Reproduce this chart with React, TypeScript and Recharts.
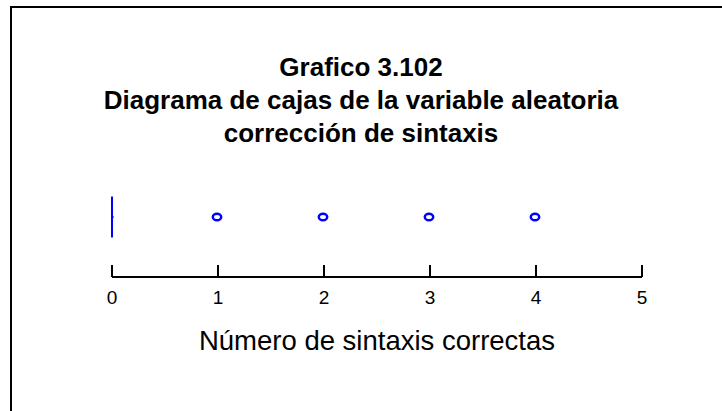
import React from "react";
import { ScatterChart, Scatter, XAxis, YAxis } from "recharts";

// box summary for "corrección de sintaxis" (everything collapses at 0)
const boxStats = [{ min: 0, q1: 0, median: 0, q3: 0, max: 0, row: 0.5 }];
// outliers
const outlierValues = [1, 2, 3, 4];
const xTicks = [0, 1, 2, 3, 4, 5];

const titleLines = ["Grafico 3.102", "Diagrama de cajas de la variable aleatoria", "corrección de sintaxis"];
const xLabel = "Número de sintaxis correctas";

const outliers = outlierValues.map((v) => ({ x: v, row: 0.5 }));
const boxPoints = boxStats.map((b) => ({ x: b.median, row: b.row }));

const FONT = "Arial, 'Liberation Sans', Helvetica, sans-serif";
const BLUE = "#0000ff";

const AxisTick = (props: any) => {
  const { x, y, payload } = props;
  return (
    <g>
      <line x1={x} y1={y} x2={x} y2={y - 12} stroke="#000" strokeWidth={2} />
      <text x={x} y={y + 27} textAnchor="middle" fontSize={19} fontFamily={FONT} fill="#000">
        {payload.value}
      </text>
    </g>
  );
};

const OutlierShape = (props: any) => {
  const { cx, cy } = props;
  return <ellipse cx={cx - 1} cy={cy} rx={4.2} ry={3.3} fill="none" stroke={BLUE} strokeWidth={2.5} />;
};

// collapsed box: q1 == q3, so only the vertical edge plus the median nub remain
const BoxShape = (props: any) => {
  const { cx, cy } = props;
  return (
    <g>
      <line x1={cx} y1={cy - 20.5} x2={cx} y2={cy + 20.5} stroke={BLUE} strokeWidth={2} />
      <line x1={cx} y1={cy} x2={cx + 2} y2={cy} stroke={BLUE} strokeWidth={1} />
    </g>
  );
};

export default function App() {
  return (
    <div style={{ position: "absolute", left: 0, top: 0, width: 722, height: 411, background: "#fff", overflow: "hidden" }}>
      <div
        style={{
          position: "absolute",
          left: 10,
          top: 6,
          width: 740,
          height: 440,
          borderTop: "2px solid #000",
          borderLeft: "2px solid #000",
        }}
      />
      <div
        style={{
          position: "absolute",
          left: 0,
          top: 51,
          width: 722,
          textAlign: "center",
          fontFamily: FONT,
          fontWeight: "bold",
          fontSize: 26,
          lineHeight: "33px",
          color: "#000",
        }}
      >
        {titleLines.map((t) => (
          <div key={t}>{t}</div>
        ))}
      </div>
      <div style={{ position: "absolute", left: 0, top: 0 }}>
        <ScatterChart width={722} height={411} margin={{ top: 157, right: 80, bottom: 0, left: 112 }}>
          <XAxis
            type="number"
            dataKey="x"
            domain={[0, 5]}
            ticks={xTicks}
            interval={0}
            height={134}
            tickSize={0}
            tickMargin={0}
            tickLine={false}
            axisLine={{ stroke: "#000", strokeWidth: 2 }}
            tick={<AxisTick />}
            label={{
              value: xLabel,
              position: "insideBottom",
              offset: 61,
              fontSize: 27.5,
              fontFamily: FONT,
              fill: "#000",
            }}
          />
          <YAxis type="number" dataKey="row" domain={[0, 1]} hide />
          <Scatter data={boxPoints} shape={<BoxShape />} isAnimationActive={false} />
          <Scatter data={outliers} shape={<OutlierShape />} isAnimationActive={false} />
        </ScatterChart>
      </div>
    </div>
  );
}
